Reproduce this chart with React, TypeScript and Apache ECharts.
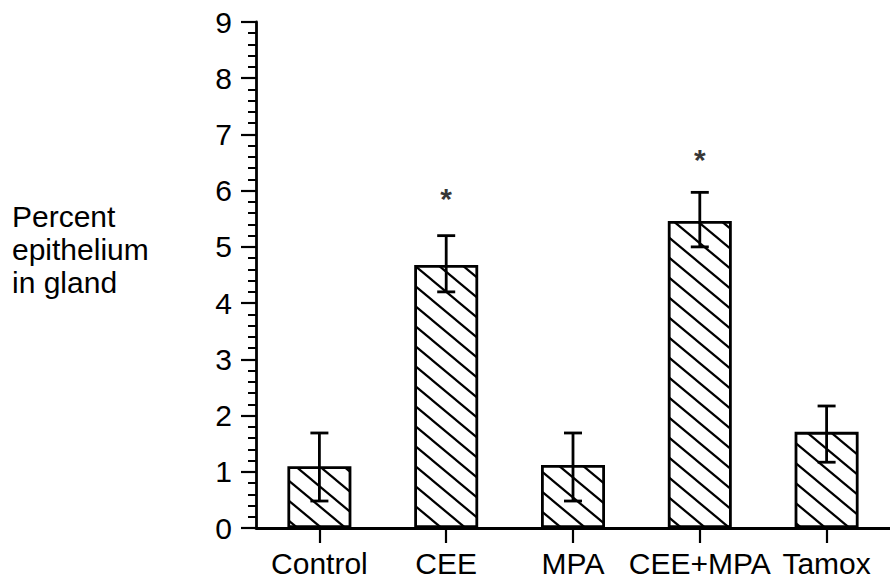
import React, { useEffect, useRef } from "react";
import * as echarts from "echarts";

const categories = ["Control", "CEE", "MPA", "CEE+MPA", "Tamox"];
const meanValues = [1.1, 4.68, 1.12, 5.46, 1.71];
const errLower = [0.48, 4.2, 0.48, 5.0, 1.17];
const errUpper = [1.69, 5.2, 1.69, 5.97, 2.17];
const starValues: (number | null)[] = [null, 5.98, null, 6.68, null];
const yTicks = [0, 1, 2, 3, 4, 5, 6, 7, 8, 9];
const yTitleLines = ["Percent", "epithelium", "in gland"];

const FONT = "'Liberation Sans', Arial, Helvetica, sans-serif";

function makeHatch() {
  const W = 24;
  const H = 20;
  const c = document.createElement("canvas");
  c.width = W;
  c.height = H;
  const ctx = c.getContext("2d")!;
  ctx.fillStyle = "#fff";
  ctx.fillRect(0, 0, W, H);
  ctx.strokeStyle = "#000";
  ctx.lineWidth = 2.2;
  for (let k = -1; k <= 1; k++) {
    ctx.beginPath();
    ctx.moveTo(k * W - W * 0.1, -H * 0.1);
    ctx.lineTo(k * W + W * 1.1, H * 1.1);
    ctx.stroke();
  }
  return { image: c.toDataURL(), imageWidth: W, imageHeight: H, repeat: "repeat" };
}

export default function App() {
  const ref = useRef<HTMLDivElement>(null);
  useEffect(() => {
    if (!ref.current) return;
    const chart = echarts.init(ref.current, null, { renderer: "svg" });
    const hatch = makeHatch();
    chart.setOption({
      animation: false,
      backgroundColor: "#fff",
      grid: { left: 256, top: 22, width: 642, height: 506, containLabel: false },
      xAxis: {
        type: "category",
        data: categories,
        boundaryGap: true,
        axisLine: { show: true, lineStyle: { color: "#000", width: 2.8 } },
        axisTick: { show: true, alignWithLabel: true, length: 15, lineStyle: { color: "#000", width: 2.2 } },
        axisLabel: { color: "#000", fontSize: 30, fontFamily: FONT, margin: 20, interval: 0 },
        splitLine: { show: false },
      },
      yAxis: {
        type: "value",
        min: yTicks[0],
        max: yTicks[yTicks.length - 1],
        interval: 1,
        axisLine: { show: true, lineStyle: { color: "#000", width: 2.8 } },
        axisTick: { show: true, length: 15, lineStyle: { color: "#000", width: 2.2 } },
        minorTick: { show: true, splitNumber: 5, length: 8, lineStyle: { color: "#000", width: 2 } },
        axisLabel: { color: "#000", fontSize: 30, fontFamily: FONT, margin: 24 },
        splitLine: { show: false },
      },
      graphic: [
        {
          type: "text",
          left: 12,
          top: 200,
          style: {
            text: yTitleLines.join("\n"),
            fill: "#000",
            fontSize: 30,
            lineHeight: 33,
            fontFamily: FONT,
          },
        },
      ],
      series: [
        {
          type: "bar",
          data: meanValues,
          barWidth: 64,
          itemStyle: { color: hatch, borderColor: "#000", borderWidth: 2.8 },
          z: 2,
        },
        {
          type: "custom",
          data: categories.map((_, i) => [i, errLower[i], errUpper[i]]),
          z: 5,
          renderItem: (params: any, api: any) => {
            const i = api.value(0);
            const lo = api.coord([i, api.value(1)]);
            const hi = api.coord([i, api.value(2)]);
            const hw = 9;
            const style = { stroke: "#000", lineWidth: 2.8 };
            return {
              type: "group",
              children: [
                { type: "line", shape: { x1: lo[0], y1: lo[1], x2: hi[0], y2: hi[1] }, style },
                { type: "line", shape: { x1: hi[0] - hw, y1: hi[1], x2: hi[0] + hw, y2: hi[1] }, style },
                { type: "line", shape: { x1: lo[0] - hw, y1: lo[1], x2: lo[0] + hw, y2: lo[1] }, style },
              ],
            };
          },
        },
        {
          type: "scatter",
          data: starValues.map((v, i) => (v == null ? null : [i, v])),
          symbolSize: 0,
          z: 6,
          label: {
            show: true,
            position: "inside",
            formatter: "*",
            color: "#000",
            fontSize: 30,
            fontWeight: "bold",
            fontFamily: FONT,
            offset: [0, 7],
          },
        },
      ],
    });
    return () => chart.dispose();
  }, []);
  return (
    <div
      ref={ref}
      style={{ position: "fixed", left: 0, top: 0, width: 890, height: 583, background: "#fff" }}
    />
  );
}
